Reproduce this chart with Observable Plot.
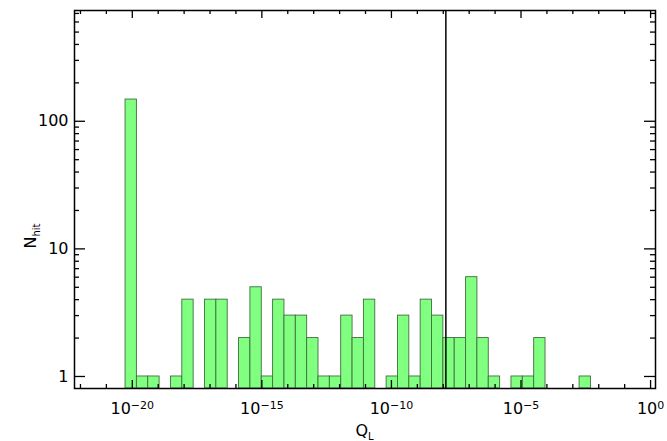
<!DOCTYPE html>
<html>
<head>
<meta charset="utf-8">
<script src="https://cdn.jsdelivr.net/npm/d3@7"></script>
<script src="https://cdn.jsdelivr.net/npm/@observablehq/plot@0.6"></script>
<style>
  html, body { margin: 0; padding: 0; background: white; }
</style>
</head>
<body>
<div id="chart"></div>
<script>
// Histogram counts per bin (consecutive bins, log10 spacing)
const counts = [148,1,1,0,1,4,0,4,4,0,2,5,1,4,3,3,2,1,1,3,2,4,0,1,3,1,4,3,2,2,6,2,1,0,1,1,2,0,0,0,1];
const binLo = -20.26;      // log10 of lower edge of first bin
const binWidth = 0.438;    // bin width in decades
const cutLine = 1.26e-8;   // vertical reference line
const xMajorExp = [-20, -15, -10, -5, 0];
const xMinorExp = d3.range(-22, 1).filter(e => !xMajorExp.includes(e));
const yMajor = [1, 10, 100];
const yMinor = [2,3,4,5,6,7,8,9,20,30,40,50,60,70,80,90,200,300,400,500,600,700];
const xDomain = [10 ** -22.23, 10 ** 0.19];
const yDomain = [0.805, 738];

const bins = counts.map((n, i) => ({
  x1: 10 ** (binLo + i * binWidth),
  x2: 10 ** (binLo + (i + 1) * binWidth),
  n
})).filter(d => d.n > 0);

const W = 667, H = 441, mL = 74, mR = 12, mT = 10, mB = 53;
const pw = W - mL - mR, ph = H - mT - mB;
const xMaj = xMajorExp.map(e => 10 ** e);
const xMin = xMinorExp.map(e => 10 ** e);

const chart = Plot.plot({
  width: W, height: H,
  marginLeft: mL, marginRight: mR, marginTop: mT, marginBottom: mB,
  x: {type: "log", domain: xDomain},
  y: {type: "log", domain: yDomain},
  style: {fontFamily: "DejaVu Sans", fontSize: "15px", background: "white", color: "black"},
  marks: [
    Plot.rectY(bins, {x1: "x1", x2: "x2", y1: () => yDomain[0], y2: "n",
      fill: "#80ff80", stroke: "#3f6f3f", strokeWidth: 0.9}),
    Plot.ruleX([cutLine], {stroke: "black", strokeWidth: 1.5}),
    // x ticks bottom/top
    Plot.ruleX(xMaj, {insetTop: ph - 8, stroke: "black", strokeWidth: 1.3}),
    Plot.ruleX(xMaj, {insetBottom: ph - 8, stroke: "black", strokeWidth: 1.3}),
    Plot.ruleX(xMin, {insetTop: ph - 4, stroke: "black", strokeWidth: 1.3}),
    Plot.ruleX(xMin, {insetBottom: ph - 4, stroke: "black", strokeWidth: 1.3}),
    // y ticks left/right
    Plot.ruleY(yMajor, {insetRight: pw - 11, stroke: "black", strokeWidth: 1.3}),
    Plot.ruleY(yMajor, {insetLeft: pw - 11, stroke: "black", strokeWidth: 1.3}),
    Plot.ruleY(yMinor, {insetRight: pw - 5, stroke: "black", strokeWidth: 1.3}),
    Plot.ruleY(yMinor, {insetLeft: pw - 5, stroke: "black", strokeWidth: 1.3}),
    Plot.frame({stroke: "black", strokeWidth: 1.5}),
    Plot.axisX({ticks: xMaj, tickSize: 0, tickPadding: 14, fontSize: 16,
      tickFormat: d => String(Math.round(Math.log10(d))), label: null}),
    Plot.axisY({ticks: yMajor, tickSize: 0, tickPadding: 6, fontSize: 16,
      tickFormat: d3.format("d"), label: null})
  ]
});

const svg = d3.select(chart);
// turn exponent labels into 10 with superscript
svg.selectAll('g[aria-label="x-axis tick label"] text').each(function () {
  const t = d3.select(this);
  const e = t.text();
  t.text("10");
  t.append("tspan").attr("dy", "-0.45em").attr("font-size", 11)
    .text(e === "0" ? "0" : "\u2212" + e.replace(/^[-\u2212]/, ""));
});

// axis titles
const xt = svg.append("text").attr("x", mL + pw / 2).attr("y", 436)
  .attr("text-anchor", "middle").attr("font-size", 16).attr("font-family", "DejaVu Sans");
xt.append("tspan").text("Q");
xt.append("tspan").attr("dy", 4).attr("font-size", 10).text("L");

const yt = svg.append("text").attr("transform", "translate(36,236) rotate(-90)")
  .attr("text-anchor", "middle").attr("font-size", 16).attr("font-family", "DejaVu Sans");
yt.append("tspan").text("N");
yt.append("tspan").attr("dy", 4).attr("font-size", 10).text("hit");

document.getElementById("chart").appendChild(chart);
</script>
</body>
</html>
